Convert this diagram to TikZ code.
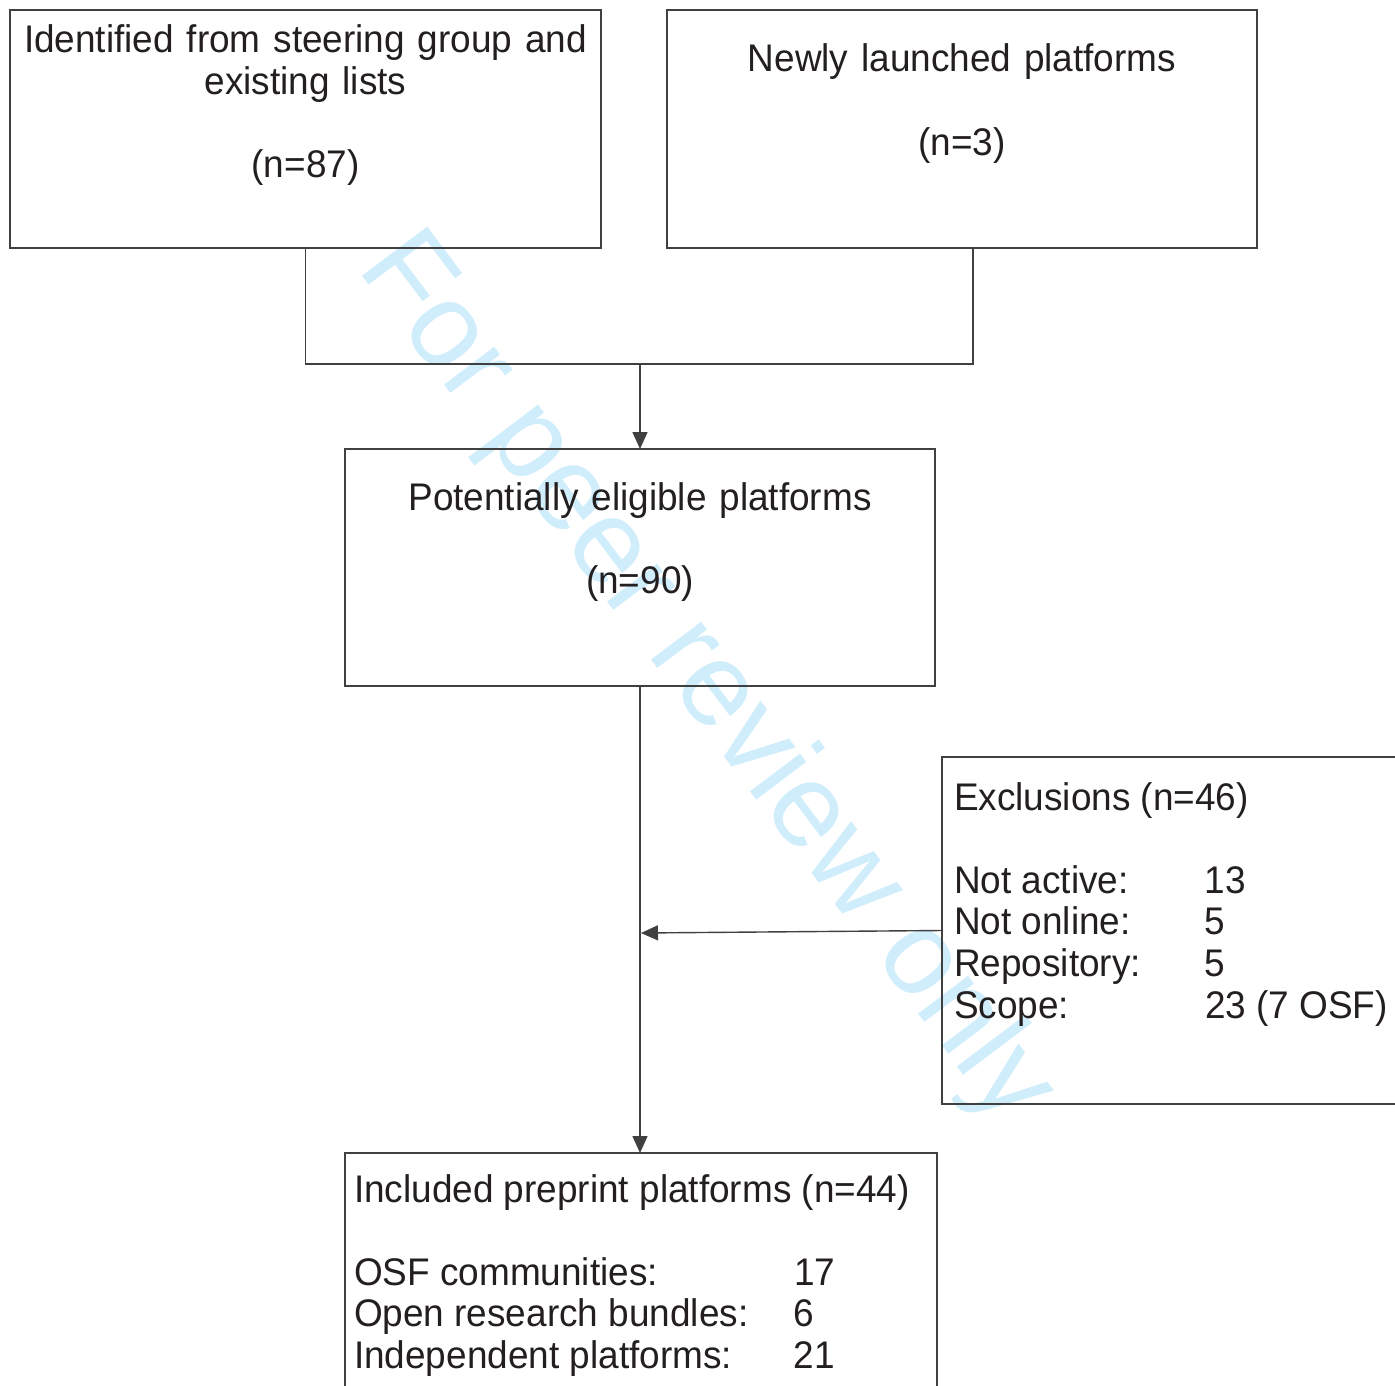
\documentclass[tikz,border=0pt]{standalone}
\usepackage{fontspec}
\setmainfont{Liberation Sans}[FakeStretch=0.96]
\newfontfamily\stampfont{Liberation Sans}
\usepackage{tikz}
\usetikzlibrary{positioning,arrows.meta}
\definecolor{boxline}{RGB}{64,64,64}
\definecolor{boxink}{RGB}{35,31,32}
\definecolor{stampblue}{RGB}{208,237,252}
\pgfdeclarelayer{background}
\pgfsetlayers{background,main}
\tikzset{
  flowpic/.style={
    x=1pt,y=-1pt
    ,inner sep=0pt
    ,outer sep=0pt
    ,font=\fontsize{38.5}{41.6}\selectfont
  }
  ,stagebox/.style={rectangle,draw=boxline,line width=1.4pt,anchor=north west}
  ,stagetext/.style={text=boxink,align=center,text width=640pt,anchor=base}
  ,listtext/.style={text=boxink,anchor=base west}
  ,flow/.style={draw=boxline,line width=1.4pt}
  ,flowarrow/.style={flow,-{Triangle[length=17pt,width=15pt]}}
  ,stamp/.style={text=stampblue,font=\stampfont\fontsize{119}{119}\selectfont,rotate=-53}
}
\newcommand\listhead[1]{\multicolumn{2}{@{}l@{}}{#1}}
\begin{document}
\begin{tikzpicture}[flowpic]
    \useasboundingbox (0,0) rectangle (1395,1386);
    \clip (0,0) rectangle (1395,1386);
    % watermark
    \begin{pgfonlayer}{background}
      \node[stamp] (stamp) at (705,680) {For peer review only};
    \end{pgfonlayer}
    % sources
    \node[stagebox,minimum width=591pt,minimum height=238pt] (idbox) at (10,10) {};
    \node[stagebox,minimum width=590pt,minimum height=238pt] (newbox) at (667,10) {};
    \node[stagetext] (idtext) at (305.5,52.5)
      {Identified from steering group and\\existing lists\\[41.6pt](n=87)};
    \node[stagetext] (newtext) at (962,72)
      {Newly launched platforms\\[41.6pt](n=3)};
    % eligible
    \node[stagebox,minimum width=590pt,minimum height=237pt] (eligbox) at (345,449) {};
    \node[stagetext] (eligtext) at (640,510)
      {Potentially eligible platforms\\[41.6pt](n=90)};
    % exclusions
    \node[stagebox,minimum width=480pt,minimum height=347pt] (exclbox) at (942,757) {};
    \node[listtext] (excltext) at (954,810) {%
      \begin{tabular}[t]{@{}p{251pt}@{}l@{}}
        \listhead{Exclusions (n=46)}\\
        & \\
        Not active: & 13\\
        Not online: & 5\\
        Repository: & 5\\
        Scope: & 23 (7 OSF)
      \end{tabular}};
    % included
    \node[stagebox,minimum width=592pt,minimum height=260pt] (inclbox) at (345,1153) {};
    \node[listtext] (incltext) at (354,1202) {%
      \begin{tabular}[t]{@{}p{440pt}@{}l@{}}
        \listhead{Included preprint platforms (n=44)}\\
        & \\
        OSF communities: & 17\\
        Open research bundles: & 6\\
        Independent platforms: & 21
      \end{tabular}};
    % connectors
    \coordinate (joinr) at (973,364);
    \coordinate (joinmid) at (640,364);
    \coordinate (exmeet) at (641,933);
    \draw[flow] (idbox.south) |- (joinr) -- (joinr |- newbox.south);
    \draw[flowarrow] (joinmid) -- (eligbox.north);
    \draw[flowarrow] (eligbox.south) -- (eligbox.south |- inclbox.north);
    \draw[flowarrow] (exclbox.west) -- (exmeet);
\end{tikzpicture}
\end{document}
